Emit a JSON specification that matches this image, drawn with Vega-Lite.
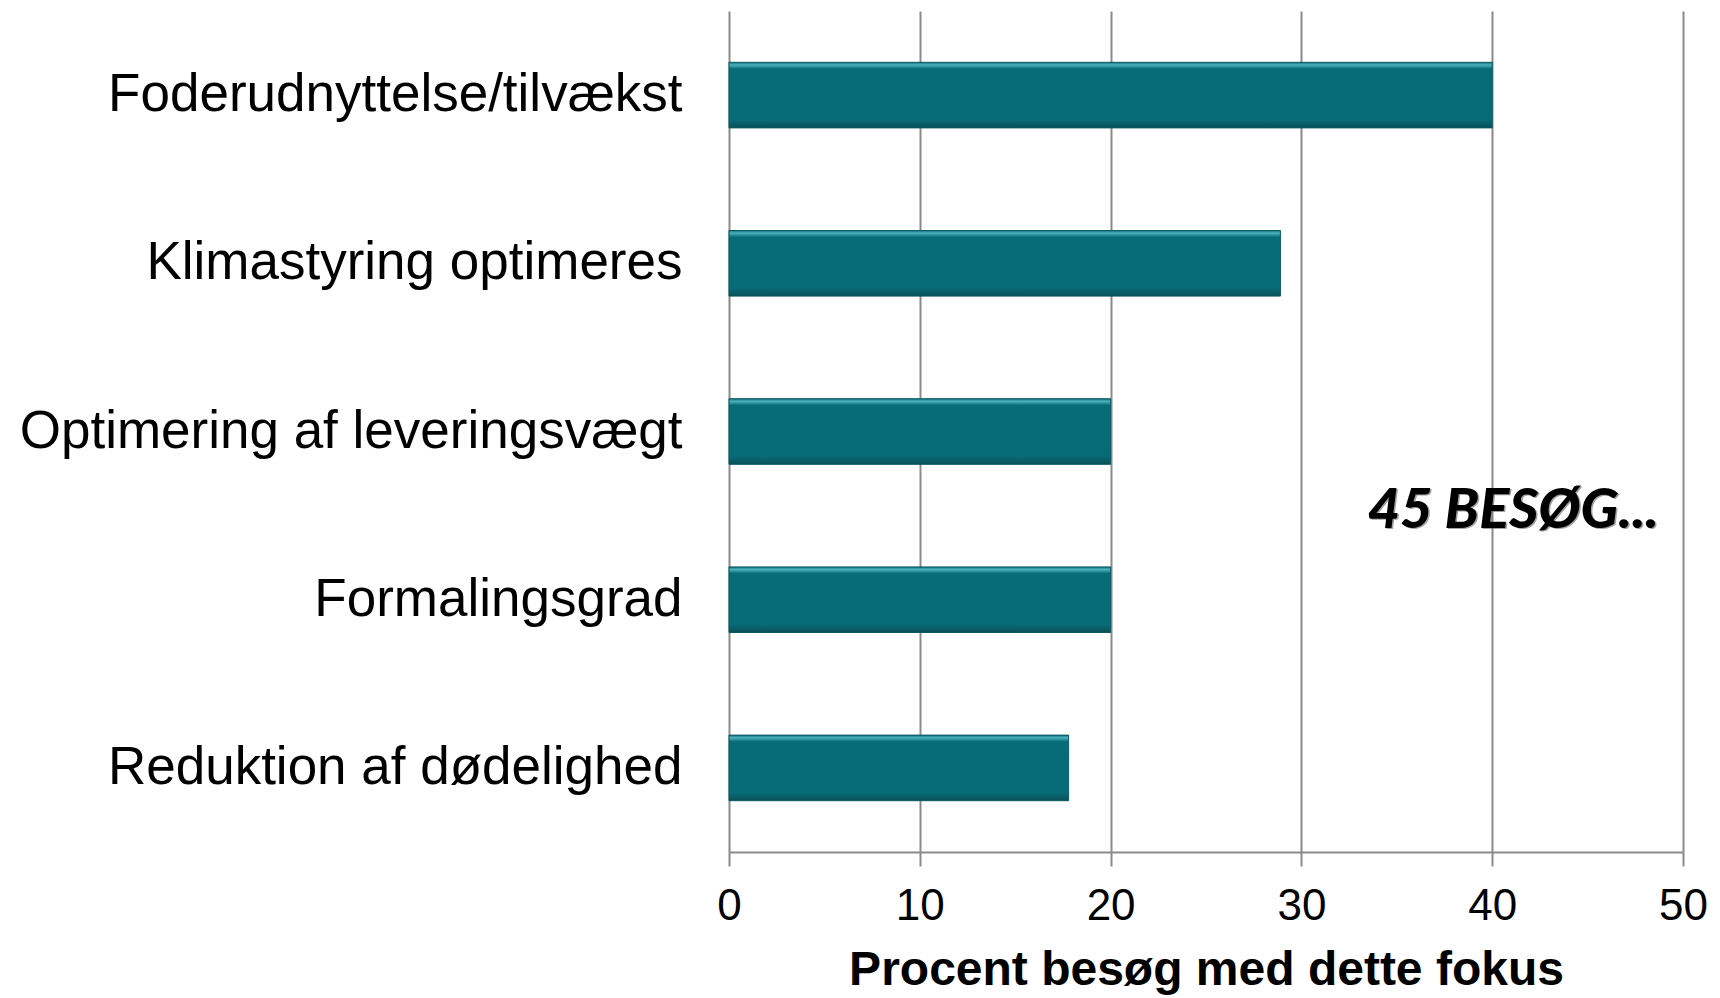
{
  "$schema": "https://vega.github.io/schema/vega-lite/v6.json",
  "autosize": "none",
  "width": 954,
  "height": 841,
  "padding": {"left": 729, "top": 11, "right": 37, "bottom": 146},
  "background": "white",
  "config": {"view": {"stroke": null}, "font": "Liberation Sans"},
  "layer": [
    {
      "data": {"values": [
        {"fokus": "Foderudnyttelse/tilvækst", "procent": 40.0},
        {"fokus": "Klimastyring optimeres", "procent": 28.9},
        {"fokus": "Optimering af leveringsvægt", "procent": 20.0},
        {"fokus": "Formalingsgrad", "procent": 20.0},
        {"fokus": "Reduktion af dødelighed", "procent": 17.8}
      ]},
      "mark": {
        "type": "bar",
        "stroke": "#0a5963",
        "strokeWidth": 1,
        "color": {
          "gradient": "linear", "x1": 0, "y1": 0, "x2": 0, "y2": 1,
          "stops": [
            {"offset": 0, "color": "#0d6e79"},
            {"offset": 0.04, "color": "#4db1bd"},
            {"offset": 0.1, "color": "#086c78"},
            {"offset": 0.88, "color": "#076b77"},
            {"offset": 1, "color": "#0b4f57"}
          ]
        }
      },
      "encoding": {
        "y": {
          "field": "fokus", "type": "nominal", "sort": null,
          "scale": {"paddingInner": 0.61, "paddingOuter": 0.305},
          "axis": {
            "title": null, "ticks": false, "domain": false,
            "labelFontSize": 53, "labelColor": "#000000", "labelPadding": 47,
            "labelLimit": 800, "labelFont": "Liberation Sans"
          }
        },
        "x": {
          "field": "procent", "type": "quantitative",
          "scale": {"domain": [0, 50], "nice": false},
          "axis": {
            "values": [0, 10, 20, 30, 40, 50],
            "title": "Procent besøg med dette fokus",
            "titleFontSize": 48, "titleFont": "Liberation Sans", "titleFontWeight": "bold",
            "titleColor": "#000000", "titlePadding": 18,
            "labelFontSize": 44, "labelColor": "#000000", "labelPadding": 18,
            "labelFont": "Liberation Sans",
            "grid": true, "gridColor": "#8a8a8a", "gridWidth": 2,
            "domainColor": "#8a8a8a", "domainWidth": 2,
            "tickColor": "#8a8a8a", "tickWidth": 2, "tickSize": 14,
            "labelFlush": false
          }
        }
      }
    },
    {
      "data": {"values": [{"note": "45 BESØG..."}]},
      "mark": {
        "type": "text", "font": "Lato", "fontWeight": 900, "fontStyle": "italic",
        "fontSize": 56, "color": "#666666", "opacity": 0.6, "align": "center", "baseline": "middle", "dy": -87.5, "dx": 1.5
      },
      "encoding": {
        "text": {"field": "note"},
        "x": {"datum": 41.1},
        "y": {"datum": "Formalingsgrad"}
      }
    },
    {
      "data": {"values": [{"note": "45 BESØG..."}]},
      "mark": {
        "type": "text", "font": "Lato", "fontWeight": 900, "fontStyle": "italic",
        "fontSize": 56, "color": "#000000", "align": "center", "baseline": "middle", "dy": -89
      },
      "encoding": {
        "text": {"field": "note"},
        "x": {"datum": 41.1},
        "y": {"datum": "Formalingsgrad"}
      }
    }
  ]
}
